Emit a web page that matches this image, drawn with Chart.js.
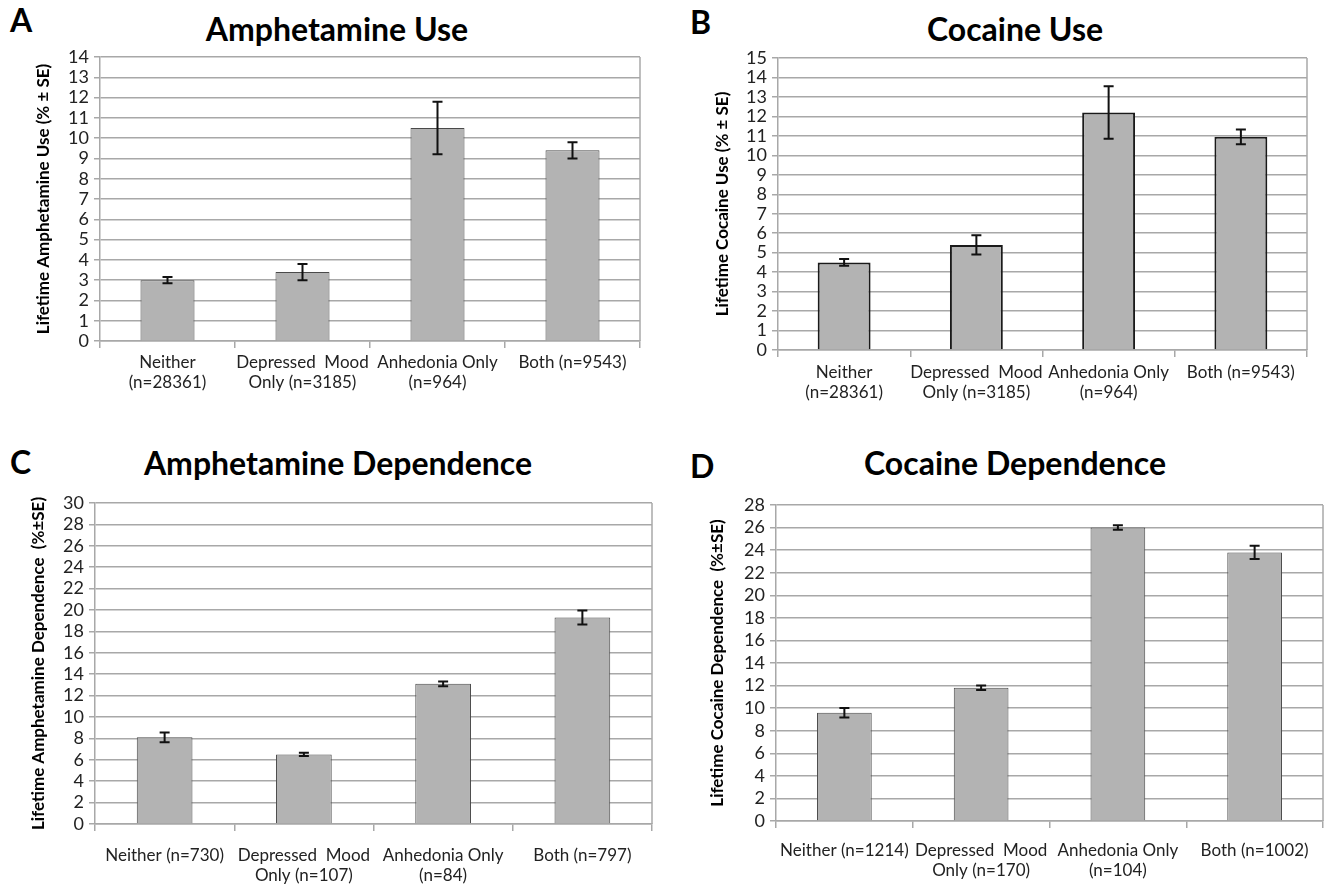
<!DOCTYPE html>
<html>
<head>
<meta charset="utf-8">
<script src="https://cdn.jsdelivr.net/npm/chart.js@4.4.1/dist/chart.umd.min.js"></script>
<style>
  html, body { margin: 0; padding: 0; background: #ffffff; }
  body { width: 1328px; height: 886px; position: relative; overflow: hidden; font-family: Lato, "Open Sans", sans-serif; }
  canvas { position: absolute; }
  .letter { position: absolute; font-weight: bold; font-size: 32px; color: #000; line-height: 1; }
  .title { position: absolute; font-weight: bold; font-size: 32px; color: #000; line-height: 1; text-align: center; width: 500px; }
</style>
</head>
<body>
<div class="letter" style="left:10px;top:4px;">A</div>
<div class="letter" style="left:690px;top:6px;">B</div>
<div class="letter" style="left:10px;top:446px;">C</div>
<div class="letter" style="left:690px;top:450px;">D</div>
<div class="title" style="left:87px;top:13px;">Amphetamine Use</div>
<div class="title" style="left:765px;top:13px;">Cocaine Use</div>
<div class="title" style="left:88px;top:447px;">Amphetamine Dependence</div>
<div class="title" style="left:765px;top:447px;">Cocaine Dependence</div>

<canvas id="cA" width="660" height="380" style="left:0px;top:40px;"></canvas>
<canvas id="cB" width="668" height="380" style="left:660px;top:40px;"></canvas>
<canvas id="cC" width="660" height="406" style="left:0px;top:480px;"></canvas>
<canvas id="cD" width="668" height="406" style="left:660px;top:480px;"></canvas>

<script>
// ---- Data ----
const categoriesUse = [["Neither", "(n=28361)"], ["Depressed  Mood", "Only (n=3185)"], ["Anhedonia Only", "(n=964)"], ["Both (n=9543)"]];
const categoriesAmphDep = [["Neither (n=730)"], ["Depressed  Mood", "Only (n=107)"], ["Anhedonia Only", "(n=84)"], ["Both (n=797)"]];
const categoriesCocDep = [["Neither (n=1214)"], ["Depressed  Mood", "Only (n=170)"], ["Anhedonia Only", "(n=104)"], ["Both (n=1002)"]];

const amphUseValues = [3.0, 3.4, 10.5, 9.4];
const amphUseErrors = [0.15, 0.4, 1.3, 0.4];
const cocUseValues = [4.5, 5.4, 12.2, 10.95];
const cocUseErrors = [0.17, 0.5, 1.35, 0.38];
const amphDepValues = [8.1, 6.5, 13.1, 19.3];
const amphDepErrors = [0.45, 0.15, 0.22, 0.65];
const cocDepValues = [9.6, 11.8, 26.0, 23.8];
const cocDepErrors = [0.42, 0.2, 0.2, 0.58];

const yTitles = ["Lifetime Amphetamine Use (% \u00B1 SE)", "Lifetime Cocaine Use (% \u00B1 SE)", "Lifetime Amphetamine Dependence  (%\u00B1SE)", "Lifetime Cocaine Dependence  (%\u00B1SE)"];

const FONT = "Lato, 'Open Sans', sans-serif";
const GRID = "#a8a8a8";

const errorBarPlugin = {
  id: 'errorBars',
  afterDatasetsDraw(chart) {
    const errs = chart.options.plugins.errorBars.errors;
    const meta = chart.getDatasetMeta(0);
    const ys = chart.scales.y;
    const vals = chart.data.datasets[0].data;
    const ctx = chart.ctx;
    ctx.save();
    ctx.strokeStyle = '#111';
    ctx.lineWidth = 2;
    meta.data.forEach((bar, i) => {
      const x = bar.x;
      const yHi = ys.getPixelForValue(vals[i] + errs[i]);
      const yLo = ys.getPixelForValue(vals[i] - errs[i]);
      const cap = 5;
      ctx.beginPath();
      ctx.moveTo(x, yHi); ctx.lineTo(x, yLo);
      ctx.moveTo(x - cap, yHi); ctx.lineTo(x + cap, yHi);
      ctx.moveTo(x - cap, yLo); ctx.lineTo(x + cap, yLo);
      ctx.stroke();
    });
    ctx.restore();
  }
};

const frameRightPlugin = {
  id: 'frameRight',
  beforeDatasetsDraw(chart) {
    const a = chart.chartArea;
    const ctx = chart.ctx;
    ctx.save();
    ctx.strokeStyle = GRID;
    ctx.lineWidth = 1.5;
    ctx.beginPath();
    ctx.moveTo(a.right, a.top);
    ctx.lineTo(a.right, a.bottom);
    ctx.stroke();
    ctx.restore();
  }
};

function makeChart(id, cats, vals, errs, yMax, yStep, cfg) {
  return new Chart(document.getElementById(id), {
    type: 'bar',
    data: {
      labels: cats,
      datasets: [{
        data: vals,
        backgroundColor: '#b3b3b3',
        borderColor: cfg.borderColor,
        borderWidth: cfg.borderWidth,
        barPercentage: cfg.barPct,
        categoryPercentage: 1.0
      }]
    },
    options: {
      responsive: false,
      animation: false,
      devicePixelRatio: 1,
      layout: { padding: { left: 0, right: cfg.padRight, top: cfg.padTop, bottom: 0 } },
      plugins: {
        legend: { display: false },
        tooltip: { enabled: false },
        errorBars: { errors: errs }
      },
      scales: {
        x: {
          afterFit(s) { s.height = cfg.xHeight; },
          grid: { display: true, drawOnChartArea: false, drawTicks: true, tickLength: 7, color: GRID, lineWidth: 1.5, offset: true },
          border: { display: true, color: GRID, width: 1.5 },
          ticks: { color: '#222', font: { family: FONT, size: 17, lineHeight: 1.2 }, padding: cfg.xPad, maxRotation: 0, autoSkip: false }
        },
        y: {
          min: 0, max: yMax,
          afterFit(s) { s.width = cfg.yWidth; },
          grid: { color: GRID, lineWidth: 1.5, tickLength: 6 },
          border: { display: true, color: GRID, width: 1.5 },
          ticks: { stepSize: yStep, autoSkip: false, color: '#222', font: { family: FONT, size: 18 }, padding: 5 },
          title: { display: true, text: cfg.yTitle, color: '#000', font: { family: FONT, size: 17, weight: 'bold' }, padding: { top: cfg.titlePad, bottom: 0 } }
        }
      }
    },
    plugins: [errorBarPlugin, frameRightPlugin]
  });
}

makeChart('cA', categoriesUse, amphUseValues, amphUseErrors, 14, 1,
  { borderColor: '#4a4a4a', borderWidth: 1, barPct: 0.4, padRight: 20, padTop: 17, xHeight: 79, xPad: 4, yWidth: 100, yTitle: yTitles[0], titlePad: 33 });
makeChart('cB', categoriesUse, cocUseValues, cocUseErrors, 15, 1,
  { borderColor: '#1a1a1a', borderWidth: 2, barPct: 0.4, padRight: 21, padTop: 18, xHeight: 70, xPad: 5, yWidth: 118, yTitle: yTitles[1], titlePad: 52 });
makeChart('cC', categoriesAmphDep, amphDepValues, amphDepErrors, 30, 2,
  { borderColor: '#4a4a4a', borderWidth: 1, barPct: 0.4, padRight: 8, padTop: 23, xHeight: 62, xPad: 14, yWidth: 95, yTitle: yTitles[2], titlePad: 28 });
makeChart('cD', categoriesCocDep, cocDepValues, cocDepErrors, 28, 2,
  { borderColor: '#4a4a4a', borderWidth: 1, barPct: 0.4, padRight: 5, padTop: 25, xHeight: 65, xPad: 12, yWidth: 116, yTitle: yTitles[3], titlePad: 47 });
</script>
</body>
</html>
